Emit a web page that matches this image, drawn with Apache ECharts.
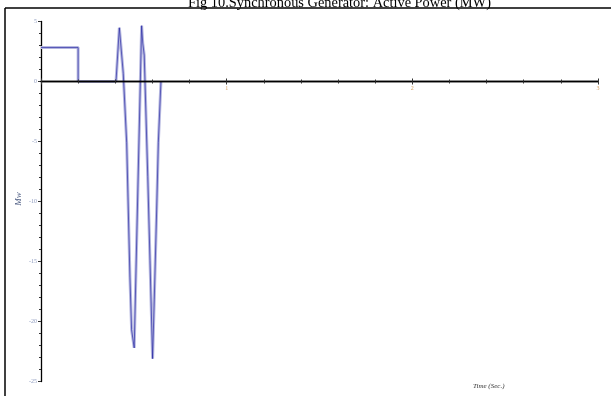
<!DOCTYPE html>
<html>
<head>
<meta charset="utf-8">
<script src="https://cdn.jsdelivr.net/npm/echarts@6/dist/echarts.min.js"></script>
<style>
  html, body { margin: 0; padding: 0; background: #fff; }
  #chart { width: 611px; height: 396px; }
</style>
</head>
<body>
<div id="chart"></div>
<script>
// Simulated active power of the synchronous generator during the disturbance
const timeSec = [0, 0.2, 0.2, 0.404, 0.422, 0.443, 0.4615, 0.479, 0.488, 0.502, 0.542, 0.548, 0.556, 0.575, 0.587, 0.601, 0.610, 0.623, 0.632, 0.646];
const powerMW = [2.83, 2.83, 0, 0, 4.48, 0.68, -5.1, -16.3, -20.7, -22.2, 4.65, 3.2, 2.2, -7.9, -14.9, -23.1, -18.2, -10.7, -5.1, 0];

// Axis extents and tick steps
const xRange = [0, 3];
const yRange = [-25, 5];
const xStep = 1;
const yStep = 5;

const titleText = 'Fig 10.Synchronous Generator: Active Power (MW)';
const yName = 'Mw';
const xName = 'Time (Sec.)';

const points = timeSec.map((t, i) => [t, powerMW[i]]);

const chart = echarts.init(document.getElementById('chart'), null, { renderer: 'canvas' });

// plot area: top edge at y = 5, bottom edge at y = -25
const gridTop = 21.5;
const gridBottom = 14.5;
const plotHeight = 396 - gridTop - gridBottom;
// shift the time axis up from the bottom edge to the zero line
const zeroOffset = -plotHeight * (0 - yRange[0]) / (yRange[1] - yRange[0]);

const xAxisBase = {
  type: 'value',
  min: xRange[0],
  max: xRange[1],
  interval: xStep,
  position: 'bottom',
  offset: zeroOffset,
  z: 5,
  axisLine: { onZero: false, lineStyle: { color: '#000', width: 1.3 } },
  splitLine: { show: false },
  minorSplitLine: { show: false }
};

chart.setOption({
  animation: false,
  title: {
    text: titleText,
    left: 183,
    top: -8.5,
    textStyle: { fontFamily: 'Liberation Serif', fontWeight: 'normal', fontSize: 14.4, color: '#000' }
  },
  grid: { left: 41, right: 13, top: gridTop, bottom: gridBottom, containLabel: false },
  xAxis: [
    Object.assign({}, xAxisBase, {
      axisTick: { show: true, inside: false, length: 3, lineStyle: { color: '#333', width: 1 } },
      minorTick: { show: true, splitNumber: 5, length: 2, lineStyle: { color: '#333', width: 1 } },
      axisLabel: {
        show: true, showMinLabel: false, margin: 4,
        fontSize: 6, color: '#d8a467', fontFamily: 'Liberation Serif'
      }
    }),
    Object.assign({}, xAxisBase, {
      axisTick: { show: true, inside: true, length: 3, lineStyle: { color: '#333', width: 1 } },
      minorTick: { show: true, splitNumber: 5, length: 2, lineStyle: { color: '#333', width: 1 } },
      axisLabel: { show: false }
    })
  ],
  yAxis: {
    type: 'value',
    min: yRange[0],
    max: yRange[1],
    interval: yStep,
    axisLine: { onZero: false, lineStyle: { color: '#000', width: 1.3 } },
    axisTick: { show: true, inside: false, length: 3, lineStyle: { color: '#333', width: 1 } },
    minorTick: { show: true, splitNumber: 5, length: 2, lineStyle: { color: '#333', width: 1 } },
    splitLine: { show: false },
    minorSplitLine: { show: false },
    axisLabel: { margin: 4, fontSize: 6, color: '#8f9cc0', fontFamily: 'Liberation Serif' }
  },
  graphic: [
    { type: 'line', shape: { x1: 5, y1: 8, x2: 5, y2: 396 }, style: { stroke: '#000', lineWidth: 1.5 } },
    { type: 'line', shape: { x1: 5, y1: 8, x2: 611, y2: 8 }, style: { stroke: '#000', lineWidth: 1.5 } },
    {
      type: 'text', x: 18.5, y: 199, rotation: Math.PI / 2,
      style: {
        text: yName, font: 'italic 9px "Liberation Serif"', fill: '#4a5a80',
        align: 'center', verticalAlign: 'middle'
      }
    },
    {
      type: 'text', left: 473, top: 383,
      style: { text: xName, font: 'italic 7px "Liberation Serif"', fill: '#333' }
    }
  ],
  series: [
    {
      type: 'line', data: points, xAxisIndex: 0, showSymbol: false, z: 2,
      lineStyle: { color: '#b6b8e0', width: 3 }
    },
    {
      type: 'line', data: points, xAxisIndex: 0, showSymbol: false, z: 3,
      lineStyle: { color: '#1e1ea0', width: 0.9, opacity: 0.7 }
    }
  ]
});
</script>
</body>
</html>
